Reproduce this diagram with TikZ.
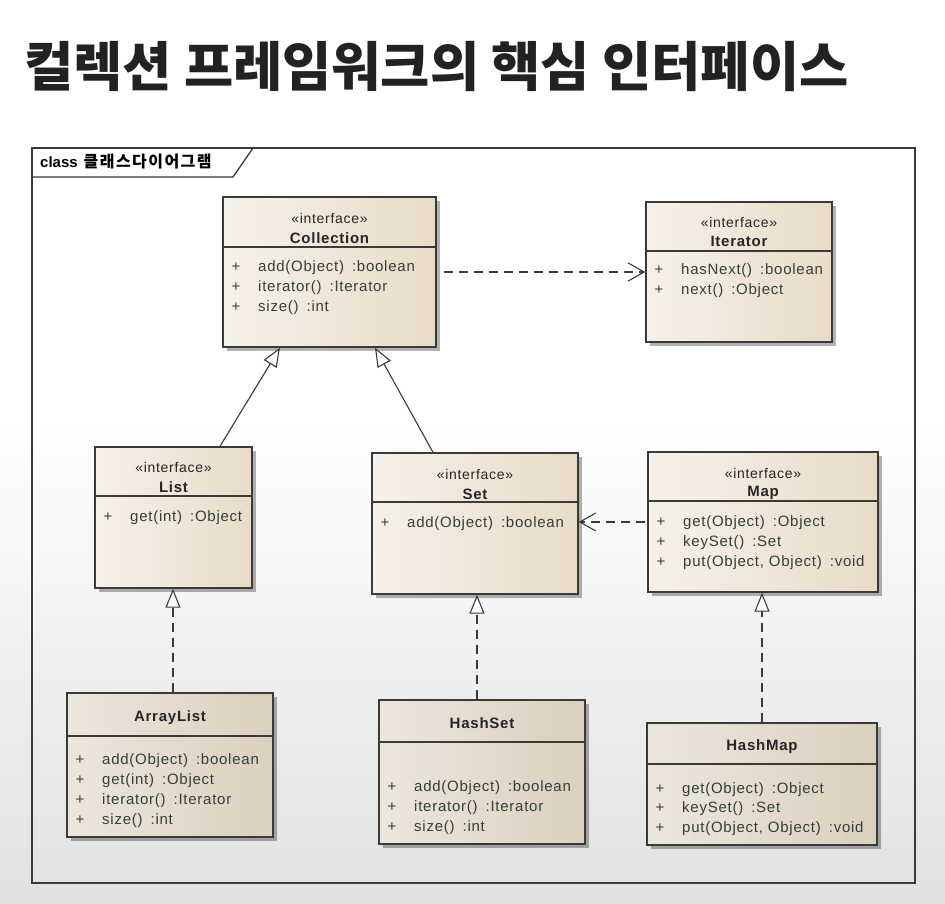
\documentclass[tikz,border=0pt]{standalone}
\usepackage{fontspec}
\setmainfont{Liberation Sans}
\newfontfamily\umlf[LetterSpace=5]{Liberation Sans}
\newfontfamily\cjkt{Noto Sans CJK KR}
\newfontfamily\cjkl[LetterSpace=9]{Noto Sans CJK KR}
\usetikzlibrary{arrows.meta,shadows}
\definecolor{boxline}{HTML}{3A3A3A}
\definecolor{bgA}{HTML}{F6F1E9}
\definecolor{bgB}{HTML}{E8DCC8}
\definecolor{bgC}{HTML}{ECE6DC}
\definecolor{bgD}{HTML}{DBD0BE}
\definecolor{mcol}{HTML}{343F39}
\definecolor{bggray}{HTML}{E1E1E1}
\definecolor{titlecol}{HTML}{222222}
\tikzset{
  umlbox/.style={draw=boxline, line width=1.4pt, left color=bgA, right color=bgB, inner sep=0pt,
    drop shadow={shadow xshift=4pt, shadow yshift=-4pt, fill=black, opacity=0.3}},
  umlboxb/.style={umlbox, left color=bgC, right color=bgD},
  divline/.style={draw=boxline, line width=1.2pt},
  stereo/.style={font=\umlf\fontsize{14}{16}\selectfont, text=black!85, inner sep=0pt},
  cname/.style={font=\umlf\bfseries\fontsize{15}{17}\selectfont, text=black!85, inner sep=0pt},
  mplus/.style={font=\umlf\fontsize{15}{17}\selectfont, text=mcol, inner sep=0pt, text height=11pt, text depth=3pt},
  mtext/.style={mplus, anchor=west},
  frameline/.style={draw=boxline, line width=1.3pt},
  conn/.style={draw=boxline, line width=1.1pt},
  gen/.style={conn, -{Triangle[open, length=19pt, width=15pt, fill=white]}},
  realz/.style={gen, dash pattern=on 9pt off 6pt},
  dep/.style={conn, dash pattern=on 9pt off 6pt, -{Straight Barb[length=16pt, width=18pt]}}
}
% #1 style, #2 name, #3 x1, #4 y1, #5 x2, #6 y2, #7 divider y
\newcommand{\umlbox}[7][umlbox]{%
  \node[#1, minimum width={#5-#3}, minimum height={#6-#4}] (#2) at ({(#3+#5)/2},{(#4+#6)/2}) {};
  \draw[divline] (#3,#7) -- (#5,#7);}
% #1 name, #2 box left x, #3 y, #4 text
\newcommand{\mrow}[4]{%
  \node[mplus] (#1p) at ({#2+13},#3) {+};
  \node[mtext] (#1) at ({#2+35},#3) {#4};}
\newcommand{\gap}{\hspace{8pt}}
\begin{document}
\begin{tikzpicture}[x=1pt,y=-1pt]
\useasboundingbox (0,0) rectangle (945,904);
\fill[white] (0,0) rectangle (945,904);
\shade[top color=white, bottom color=bggray] (0,420) rectangle (945,904);

% title
\node[anchor=west, inner sep=0pt, text=titlecol, font=\cjkt\bfseries\fontsize{53.5}{60}\selectfont] (title) at (24,66) {컬렉션 프레임워크의 핵심 인터페이스};

% frame
\draw[frameline] (32,148) rectangle (915,883);
\draw[frameline] (32,177) -- (233,177) -- (253,148);
\node[anchor=west, inner sep=0pt, font=\bfseries\fontsize{15}{17}\selectfont] (flabel) at (40,162) {class\hspace{6pt}{\cjkl\fontsize{16}{18}\selectfont 클래스다이어그램}};

% Collection
\umlbox{coll}{223}{197}{436}{347}{247}
\node[stereo] (coll-s) at (329.5,218) {«interface»};
\node[cname] (coll-n) at (329.5,238) {Collection};
\mrow{coll-m1}{223}{267}{add(Object)\gap:boolean}
\mrow{coll-m2}{223}{287}{iterator()\gap:Iterator}
\mrow{coll-m3}{223}{307}{size()\gap:int}

% Iterator
\umlbox{iter}{646}{202}{832}{342}{251}
\node[stereo] (iter-s) at (739,222) {«interface»};
\node[cname] (iter-n) at (739,241) {Iterator};
\mrow{iter-m1}{646}{270}{hasNext()\gap:boolean}
\mrow{iter-m2}{646}{290}{next()\gap:Object}

% List
\umlbox{list}{95}{447}{252}{588}{496}
\node[stereo] (list-s) at (173.5,467) {«interface»};
\node[cname] (list-n) at (173.5,487) {List};
\mrow{list-m1}{95}{517}{get(int)\gap:Object}

% Set
\umlbox{set}{372}{453}{578}{594}{502}
\node[stereo] (set-s) at (475,474) {«interface»};
\node[cname] (set-n) at (475,494) {Set};
\mrow{set-m1}{372}{523}{add(Object)\gap:boolean}

% Map
\umlbox{map}{648}{452}{878}{592}{501}
\node[stereo] (map-s) at (763,473) {«interface»};
\node[cname] (map-n) at (763,493) {Map};
\mrow{map-m1}{648}{522}{get(Object)\gap:Object}
\mrow{map-m2}{648}{542}{keySet()\gap:Set}
\mrow{map-m3}{648}{562}{put(Object, Object)\gap:void}

% ArrayList
\umlbox[umlboxb]{al}{67}{693}{273}{837}{736}
\node[cname] (al-n) at (170,718) {ArrayList};
\mrow{al-m1}{67}{760}{add(Object)\gap:boolean}
\mrow{al-m2}{67}{780}{get(int)\gap:Object}
\mrow{al-m3}{67}{800}{iterator()\gap:Iterator}
\mrow{al-m4}{67}{820}{size()\gap:int}

% HashSet
\umlbox[umlboxb]{hs}{379}{700}{585}{844}{742}
\node[cname] (hs-n) at (482,723) {HashSet};
\mrow{hs-m1}{379}{787}{add(Object)\gap:boolean}
\mrow{hs-m2}{379}{807}{iterator()\gap:Iterator}
\mrow{hs-m3}{379}{827}{size()\gap:int}

% HashMap
\umlbox[umlboxb]{hm}{647}{723}{877}{845}{764}
\node[cname] (hm-n) at (762,747) {HashMap};
\mrow{hm-m1}{647}{789}{get(Object)\gap:Object}
\mrow{hm-m2}{647}{808}{keySet()\gap:Set}
\mrow{hm-m3}{647}{828}{put(Object, Object)\gap:void}

% connectors
\draw[dep, shorten <=7pt] (coll.east) -- (iter.west);
\draw[dep, shorten <=2pt] (map.west) -- (set.east |- map.west);
\draw[gen] (list.north -| 220,0) -- (coll.south -| 280,0);
\draw[gen] (set.north -| 433,0) -- (coll.south -| 375,0);
\draw[realz] (al.north -| 173,0) -- (list.south -| 173,0);
\draw[realz] (hs.north -| 477,0) -- (set.south -| 477,0);
\draw[realz] (hm.north -| 762,0) -- (map.south -| 762,0);
\end{tikzpicture}
\end{document}
